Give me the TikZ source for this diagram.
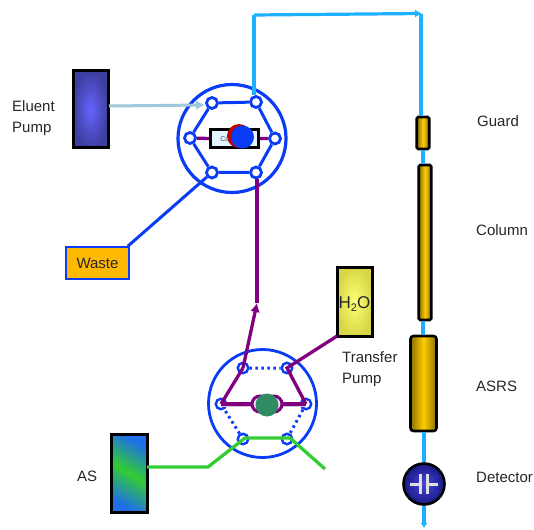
\documentclass[tikz,border=0pt]{standalone}
\usepackage{fontspec}
\setmainfont{Liberation Sans}
\usetikzlibrary{arrows.meta}
\definecolor{vblue}{HTML}{0A3CF5}
\definecolor{cyanline}{HTML}{1CB0FF}
\definecolor{purp}{HTML}{800080}
\definecolor{grn}{HTML}{33CC33}
\definecolor{gold}{HTML}{FFCC00}
\definecolor{golddk}{HTML}{8A7000}
\definecolor{aqua}{HTML}{A0C8D8}
\definecolor{teal2}{HTML}{2E8B62}
\definecolor{asblue}{HTML}{1E6FE8}
\tikzset{
  port/.style={circle,draw=vblue,line width=2.8pt,fill=white,minimum size=11pt,inner sep=0pt},
  portb/.style={circle,draw=vblue,line width=2.4pt,fill=white,minimum size=10.5pt,inner sep=0pt},
  label/.style={font=\fontsize{15}{18}\selectfont,inner sep=0pt,anchor=west,text=black!85},
  vline/.style={draw=vblue,line width=3pt},
  vdot/.style={draw=vblue,line width=3pt,dash pattern=on 2.5pt off 3.5pt},
  pline/.style={draw=purp,line width=3.3pt},
  gline/.style={draw=grn,line width=3.3pt},
  cline/.style={draw=cyanline,line width=3.2pt},
  tube/.style={draw=black,line width=2.6pt,rounded corners=1.5pt,left color=golddk,right color=golddk,middle color=gold},
  boxout/.style={draw=black,line width=3pt},
}
\begin{document}
\begin{tikzpicture}[x=1pt,y=-1pt]
\useasboundingbox (0,0) rectangle (534,529);
% free coordinates
\coordinate (cTL) at (254,15);
\coordinate (cTR) at (422,13.5);
\coordinate (cTR2) at (421,14);
\coordinate (out) at (424,528);
\coordinate (j) at (257,303);
\coordinate (gA) at (208,467);
\coordinate (gB) at (325,469);
\coordinate (gC) at (245,438);
\coordinate (gD) at (290,438);
\coordinate (eS) at (109,106);
\coordinate (eT) at (205,105);
% component boxes
\node[minimum width=36pt,minimum height=78pt,inner sep=0pt] (ep) at (90.5,109.5) {};
\shade[inner color={rgb,255:red,100;green,100;blue,255},outer color={rgb,255:red,62;green,62;blue,160}] (73,71) rectangle (108,148);
\draw[boxout] (73,71) rectangle (108,148);
\node[minimum width=35pt,minimum height=69pt,inner sep=0pt] (h2o) at (354.5,301.5) {};
\shade[inner color={rgb,255:red,255;green,255;blue,120},outer color={rgb,255:red,215;green,215;blue,70}] (337,267) rectangle (372,336);
\draw[boxout] (337,267) rectangle (372,336);
\node[inner sep=0pt,font=\fontsize{17}{20}\selectfont,text=black!85] at (354.5,304) {H\raisebox{-3pt}{\fontsize{11}{12}\selectfont 2}O};
\node[minimum width=36pt,minimum height=78pt,inner sep=0pt] (as) at (129,473) {};
\shade[top color=asblue,bottom color=asblue,middle color=grn,shading angle=-30] (111,434) rectangle (147,512);
\draw[boxout] (111,434) rectangle (147,512);
\node[draw=vblue,line width=1.5pt,fill=gold!75!orange,minimum width=63pt,minimum height=32pt,inner sep=0pt,font=\fontsize{15}{18}\selectfont,text=black!85] (waste) at (97.5,263) {Waste};
% column
\node[tube,minimum width=12.5pt,minimum height=32pt,inner sep=0pt] (guard) at (423,133) {};
\node[tube,minimum width=12.5pt,minimum height=155pt,inner sep=0pt] (col) at (425,242.5) {};
\node[tube,rounded corners=3pt,minimum width=26pt,minimum height=95pt,inner sep=0pt] (asrs) at (423.5,383.5) {};
\node[circle,draw=black,line width=2.6pt,inner color={rgb,255:red,70;green,70;blue,225},outer color={rgb,255:red,25;green,25;blue,130},minimum size=41pt,inner sep=0pt] (det) at (424,484) {};
\draw[white!88!black,line width=3pt] (410,484)--(420.5,484) (427.5,484)--(438,484) (420.5,474)--(420.5,494) (427.5,474)--(427.5,494);
% valve 1
\draw[vblue,line width=3.2pt] (232,138.5) circle[radius=54];
\node[port] (a1) at (212,103) {};
\node[port] (a2) at (256,102) {};
\node[port] (a3) at (275,138.5) {};
\node[port] (a4) at (256,172.5) {};
\node[port] (a5) at (212,172.5) {};
\node[port] (a6) at (190,138) {};
\draw[vline] (a1)--(a2) (a2)--(a3) (a3)--(a4) (a4)--(a5) (a5)--(a6) (a6)--(a1);
\node[draw=black,line width=2.6pt,fill=cyan!12,minimum width=48pt,minimum height=18pt,inner sep=0pt,font=\fontsize{7}{8}\selectfont,text=black!70] (cc) at (234.5,138.5) {\hspace*{-4pt}Column};
\draw[pline] (a6)--(cc.west) (cc.east)--(a3);
\fill[red!75!black] (239,136) circle[radius=12];
\fill[vblue] (242.5,137) circle[radius=11.5];
% valve 2
\draw[vblue,line width=2.8pt] (262.5,403.5) circle[radius=54];
\node[portb] (b1) at (243,368) {};
\node[portb] (b2) at (287,368) {};
\node[portb] (b3) at (306,404) {};
\node[portb] (b4) at (287,439) {};
\node[portb] (b5) at (243,439) {};
\node[portb] (b6) at (221,404) {};
\draw[vdot] (b1)--(b2) (b3)--(b4) (b5)--(b6);
\draw[draw=purp!25,line width=5pt] (b6.center)--(b3.center);
\draw[pline] (b6.center)--(b3.center);
\draw[pline] (b6.center)--(b1.center);
\draw[pline,-{Latex[length=9pt,width=10pt]}] (b1.center)--(j);
\draw[pline] (b3.center)--(b2.center)--(h2o.south west);
\draw[pline] (j)--(j|-a4.south);
\draw[purp,line width=3pt,fill=purp!10] (260,404) circle[radius=8];
\draw[purp,line width=3pt,fill=purp!10] (274,404) circle[radius=8];
\fill[teal2] (267,405) circle[radius=11.5];
\draw[gline] (as.east|-gA)--(gA)--(gC)--(gD)--(gB);
% flows
\draw[cline] (a2.north-|cTL)--(cTL);
\draw[cline,-{Latex[length=7pt,width=8pt]}] (cTL)--(cTR);
\draw[cline] (cTR2)--(cTR2|-guard.north);
\draw[cline] (guard.south)--(guard.south|-col.north);
\draw[cline] (guard.south|-col.south)--(guard.south|-asrs.north);
\draw[cline] (det.north|-asrs.south)--(det.north);
\draw[cline,-{Latex[length=5pt,width=7pt]}] (det.south)--(out);
\draw[draw=aqua,line width=3pt,-{Latex[length=9pt,width=10pt]}] (eS)--(eT);
\draw[vline] (waste.north east)+(-2,0)--(a5);
% labels
\node[label] (t1) at (12,106) {Eluent};
\node[label] (t2) at (12,129) {Pump};
\node[label] (t3) at (477,121) {Guard};
\node[label] (t4) at (476,230) {Column};
\node[label] (t5) at (476,386) {ASRS};
\node[label] (t6) at (476,477) {Detector};
\node[label] (t7) at (77,476) {AS};
\node[label] (t8) at (342,357) {Transfer};
\node[label] (t9) at (342,380) {Pump};
\end{tikzpicture}
\end{document}
